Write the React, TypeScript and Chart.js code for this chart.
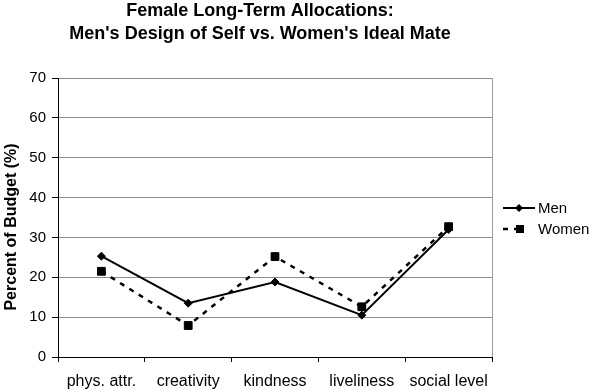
import React, { useEffect, useRef } from "react";
import { Chart, registerables } from "chart.js";

Chart.register(...registerables);

const FONT = '"Liberation Sans", Arial, sans-serif';

const categories = ["phys. attr.", "creativity", "kindness", "liveliness", "social level"];
const menValues = [25.3, 13.5, 18.8, 10.5, 32.0];
const womenValues = [21.5, 7.9, 25.2, 12.6, 32.7];
const seriesNames = ["Men", "Women"];
const titleLines = ["Female Long-Term Allocations:", "Men's Design of Self vs. Women's Ideal Mate"];
const yAxisTitle = "Percent of Budget (%)";
const yMin = 0;
const yMax = 70;
const yStep = 10;

const decorPlugin = {
  id: "decor",
  afterDraw(chart: any) {
    const ctx = chart.ctx as CanvasRenderingContext2D;
    const a = chart.chartArea;
    ctx.save();
    // right border of plot area
    ctx.strokeStyle = "#9a9a9a";
    ctx.lineWidth = 1;
    ctx.setLineDash([]);
    ctx.beginPath();
    ctx.moveTo(Math.round(a.right) + 0.5, a.top);
    ctx.lineTo(Math.round(a.right) + 0.5, a.bottom);
    ctx.stroke();

    // title
    ctx.fillStyle = "#000";
    ctx.font = `bold 18px ${FONT}`;
    ctx.textAlign = "center";
    ctx.textBaseline = "alphabetic";
    ctx.fillText(titleLines[0], 260, 15.5);
    ctx.fillText(titleLines[1], 260, 38.5);

    // y axis title
    ctx.save();
    ctx.translate(12, 227);
    ctx.rotate(-Math.PI / 2);
    ctx.font = `bold 16px ${FONT}`;
    ctx.textAlign = "center";
    ctx.textBaseline = "middle";
    ctx.fillText(yAxisTitle, 0, 0);
    ctx.restore();

    // legend
    chart.data.datasets.forEach((ds: any, i: number) => {
      const y = 208 + i * 21;
      ctx.strokeStyle = ds.borderColor;
      ctx.lineWidth = ds.borderWidth;
      ctx.setLineDash(ds.borderDash || []);
      ctx.beginPath();
      ctx.moveTo(503, y);
      ctx.lineTo(ds.borderDash ? 520 : 535, y);
      ctx.stroke();
      ctx.setLineDash([]);
      ctx.fillStyle = "#000";
      ctx.beginPath();
      if (ds.pointStyle === "rect") {
        ctx.rect(516, y - 4, 8, 8);
      } else {
        ctx.moveTo(519, y - 4);
        ctx.lineTo(523, y);
        ctx.lineTo(519, y + 4);
        ctx.lineTo(515, y);
        ctx.closePath();
      }
      ctx.fill();
      ctx.font = `15px ${FONT}`;
      ctx.textAlign = "left";
      ctx.textBaseline = "middle";
      ctx.fillText(ds.label, 538, y + 0.5);
    });
    ctx.restore();
  },
};

export default function App() {
  const ref = useRef<HTMLCanvasElement>(null);
  useEffect(() => {
    document.body.style.margin = "0";
    const chart = new Chart(ref.current!, {
      type: "line",
      data: {
        labels: categories,
        datasets: [
          {
            label: seriesNames[0],
            data: menValues,
            borderColor: "#000",
            backgroundColor: "#000",
            borderWidth: 2,
            pointStyle: "rectRot",
            pointRadius: 4,
            pointBorderWidth: 1,
            tension: 0,
          },
          {
            label: seriesNames[1],
            data: womenValues,
            borderColor: "#000",
            backgroundColor: "#000",
            borderWidth: 2.5,
            borderDash: [5, 6],
            pointStyle: "rect",
            pointRadius: 5.5,
            pointBorderWidth: 1,
            tension: 0,
          },
        ],
      },
      options: {
        responsive: false,
        animation: false,
        layout: { padding: { left: 0, right: 102, top: 78, bottom: 0 } },
        plugins: {
          legend: { display: false },
          title: { display: false },
          tooltip: { enabled: false },
        },
        scales: {
          x: {
            type: "category",
            offset: true,
            grid: {
              offset: true,
              drawOnChartArea: false,
              drawTicks: true,
              tickLength: 5,
              color: "#000",
              tickColor: "#000",
            },
            border: { color: "#000", width: 1 },
            ticks: {
              font: { size: 16, family: FONT },
              color: "#000",
              padding: 10,
              maxRotation: 0,
              autoSkip: false,
            },
            afterFit: (s: any) => {
              s.height = 33;
            },
          },
          y: {
            min: yMin,
            max: yMax,
            ticks: {
              stepSize: yStep,
              font: { size: 15, family: FONT },
              color: "#000",
              padding: 6,
            },
            grid: { color: "#8c8c8c", tickColor: "#000", tickLength: 6 },
            border: { color: "#000", width: 1 },
            afterFit: (s: any) => {
              s.width = 58;
            },
          },
        },
      },
      plugins: [decorPlugin],
    });
    return () => chart.destroy();
  }, []);
  return (
    <div style={{ width: 594, height: 390 }}>
      <canvas ref={ref} width={594} height={390} style={{ display: "block" }} />
    </div>
  );
}
